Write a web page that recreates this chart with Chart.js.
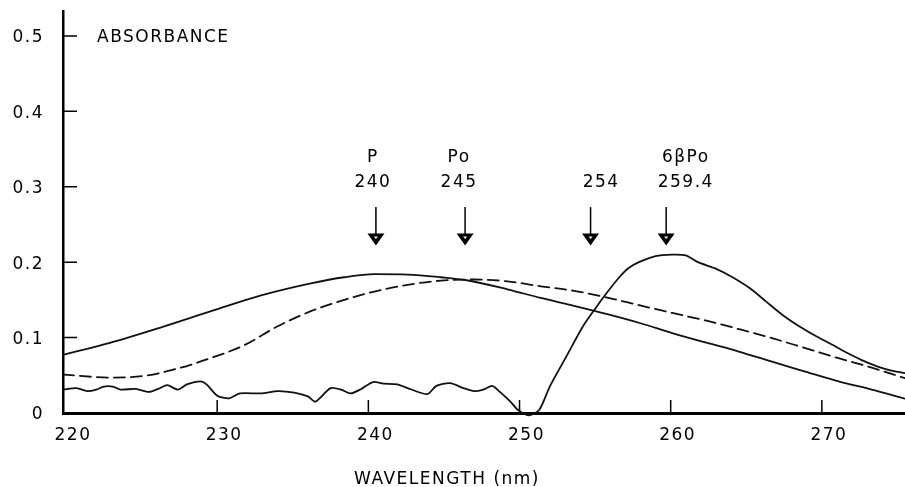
<!DOCTYPE html>
<html>
<head>
<meta charset="utf-8">
<script src="https://cdn.jsdelivr.net/npm/chart.js@4.4.1/dist/chart.umd.min.js"></script>
<style>
  html, body { margin: 0; padding: 0; background: #fff; }
  canvas { display: block; }
</style>
</head>
<body>
<canvas id="spectrumChart" width="905" height="487"></canvas>
<script>
// smooth solid trace
const smoothWl  = [219.8, 222.9, 226.2, 229.6, 232.9, 236.2, 238.4, 240.4, 242.6, 244.8, 246.5, 249.2, 251.4, 253.6, 255.8, 258.0, 260.1, 262.3, 264.5, 266.7, 268.9, 271.1, 273.3, 275.5];
const smoothAbs = [0.077, 0.093, 0.113, 0.135, 0.156, 0.172, 0.180, 0.184, 0.1835, 0.180, 0.176, 0.164, 0.1525, 0.142, 0.131, 0.119, 0.106, 0.0935, 0.0815, 0.068, 0.055, 0.042, 0.031, 0.019];

// dashed trace
const dashedWl  = [219.8, 222.9, 225.1, 227.4, 229.6, 231.8, 234.0, 236.2, 238.4, 240.4, 242.6, 244.8, 247.0, 249.2, 251.4, 253.6, 255.8, 257.9, 260.1, 262.3, 264.5, 266.7, 268.9, 271.1, 273.3, 275.5];
const dashedAbs = [0.051, 0.047, 0.049, 0.059, 0.073, 0.090, 0.115, 0.135, 0.150, 0.161, 0.170, 0.1755, 0.177, 0.1746, 0.168, 0.162, 0.153, 0.143, 0.1326, 0.1227, 0.1113, 0.0993, 0.086, 0.0727, 0.0602, 0.0461];

// noisy difference trace
const noisyWl  = [219.8, 220.7, 221.4, 222.0, 222.5, 223.1, 223.6, 224.6, 225.5, 226.1, 226.7, 227.4, 228.0, 228.9, 229.3, 230.0, 230.8, 231.5, 232.9, 234.0, 235.1, 236.0, 236.5, 237.5, 238.2, 238.8, 239.5, 240.3, 241.0, 241.9, 242.8, 243.9, 244.5, 245.4, 246.3, 247.0, 247.6, 248.2, 248.7, 249.4, 249.9, 250.6, 251.3, 252.0, 253.1, 254.2, 255.1, 255.8, 256.6, 257.2, 257.9, 259.0, 260.1, 261.0, 261.8, 262.9, 264.0, 265.2, 266.3, 267.4, 268.5, 269.6, 270.7, 271.5, 272.6, 273.7, 274.6, 275.5];
const noisyAbs = [0.031, 0.033, 0.029, 0.031, 0.035, 0.035, 0.031, 0.032, 0.028, 0.032, 0.037, 0.031, 0.038, 0.042, 0.038, 0.023, 0.0195, 0.026, 0.026, 0.029, 0.027, 0.022, 0.015, 0.033, 0.031, 0.026, 0.0315, 0.041, 0.039, 0.038, 0.0315, 0.025, 0.036, 0.0395, 0.033, 0.029, 0.031, 0.036, 0.028, 0.015, 0.004, -0.003, 0.004, 0.035, 0.075, 0.115, 0.141, 0.160, 0.180, 0.192, 0.200, 0.208, 0.210, 0.209, 0.200, 0.192, 0.181, 0.166, 0.148, 0.130, 0.115, 0.102, 0.0904, 0.0815, 0.0705, 0.0616, 0.0563, 0.0528];

const xTicks = [220, 230, 240, 250, 260, 270];
const yTicks = [0, 0.1, 0.2, 0.3, 0.4, 0.5];

// arrows marking the maxima
const markerNames  = ['P', 'Po', '', '6\u03B2Po'];
const markerLabels = ['240', '245', '254', '259.4'];
const markerWl     = [240.5, 246.4, 254.7, 259.7];
const markerTextWl = [240.3, 246.0, 255.4, 261.0];

const FONT = '"DejaVu Sans", "Liberation Sans", sans-serif';
const SPACING = '1.5px';

function points(xs, ys) {
  return xs.map((x, i) => ({ x: x, y: ys[i] }));
}

const extras = {
  id: 'extras',
  beforeLayout(chart) { chart.ctx.letterSpacing = SPACING; },
  beforeDraw(chart) { chart.ctx.letterSpacing = SPACING; },
  afterDatasetsDraw(chart) {
    const { ctx, chartArea, scales: { x, y } } = chart;
    ctx.save();
    ctx.letterSpacing = SPACING;
    ctx.strokeStyle = '#000';
    ctx.fillStyle = '#000';
    ctx.lineWidth = 1.5;

    // tick marks point into the plot
    ctx.beginPath();
    x.ticks.forEach(t => {
      const px = x.getPixelForValue(t.value);
      if (px < chartArea.left + 5) return;
      ctx.moveTo(px, chartArea.bottom);
      ctx.lineTo(px, chartArea.bottom - 13);
    });
    y.ticks.forEach(t => {
      if (t.value === 0) return;
      const py = y.getPixelForValue(t.value);
      ctx.moveTo(chartArea.left, py);
      ctx.lineTo(chartArea.left + 14, py);
    });
    ctx.stroke();

    ctx.font = '17px ' + FONT;
    ctx.textBaseline = 'middle';
    ctx.textAlign = 'left';
    ctx.fillText('ABSORBANCE', chartArea.left + 34, y.getPixelForValue(0.5) + 2);
    ctx.textAlign = 'center';
    ctx.fillText('WAVELENGTH (nm)', 447, 480);

    // arrows
    const nameY = y.getPixelForValue(0.341) + 2;
    const labelY = y.getPixelForValue(0.308) + 2;
    const shaftTop = y.getPixelForValue(0.273);
    const tip = y.getPixelForValue(0.222);
    markerWl.forEach((wl, i) => {
      const px = x.getPixelForValue(wl);
      const tx = x.getPixelForValue(markerTextWl[i]);
      ctx.fillStyle = '#000';
      if (markerNames[i]) ctx.fillText(markerNames[i], tx, nameY);
      ctx.fillText(markerLabels[i], tx, labelY);
      ctx.beginPath();
      ctx.moveTo(px, shaftTop);
      ctx.lineTo(px, tip - 10);
      ctx.stroke();
      ctx.beginPath();
      ctx.moveTo(px - 8.5, tip - 12);
      ctx.lineTo(px + 8.5, tip - 12);
      ctx.lineTo(px, tip);
      ctx.closePath();
      ctx.fill();
      ctx.fillStyle = '#fff';
      ctx.beginPath();
      ctx.moveTo(px - 2, tip - 9);
      ctx.lineTo(px + 2, tip - 9);
      ctx.lineTo(px, tip - 6.5);
      ctx.closePath();
      ctx.fill();
    });
    ctx.restore();
  }
};

const spectrumCtx = document.getElementById('spectrumChart').getContext('2d');
const spectrumChart = new Chart(spectrumCtx, {
  type: 'line',
  data: {
    datasets: [{
      data: points(smoothWl, smoothAbs),
      borderColor: '#111',
      borderWidth: 1.8,
      cubicInterpolationMode: 'monotone'
    }, {
      data: points(dashedWl, dashedAbs),
      borderColor: '#111',
      borderWidth: 1.8,
      borderDash: [11, 6],
      cubicInterpolationMode: 'monotone'
    }, {
      data: points(noisyWl, noisyAbs),
      borderColor: '#111',
      borderWidth: 1.8,
      tension: 0.25
    }]
  },
  options: {
    responsive: false,
    animation: false,
    layout: { padding: { top: 11, right: 0, bottom: 0, left: 0 } },
    elements: {
      point: { radius: 0 },
      line: { fill: false, borderJoinStyle: 'round', borderCapStyle: 'round' }
    },
    datasets: { line: { clip: false } },
    plugins: {
      legend: { display: false },
      tooltip: { enabled: false }
    },
    scales: {
      x: {
        type: 'linear',
        min: 219.8,
        max: 275.5,
        afterBuildTicks: scale => { scale.ticks = xTicks.map(v => ({ value: v })); },
        afterFit: scale => {
          scale.height = 74;
          scale.paddingLeft = 0;
          scale.paddingRight = 0;
        },
        grid: { display: false, drawTicks: false },
        border: { display: true, color: '#000', width: 3 },
        ticks: {
          color: '#000',
          font: { family: FONT, size: 17 },
          padding: 12,
          labelOffset: 7,
          maxRotation: 0
        }
      },
      y: {
        type: 'linear',
        min: 0,
        max: 0.533,
        afterBuildTicks: scale => { scale.ticks = yTicks.map(v => ({ value: v })); },
        afterFit: scale => {
          scale.width = 63;
          scale.paddingTop = 0;
          scale.paddingBottom = 0;
        },
        grid: { display: false, drawTicks: false },
        border: { display: true, color: '#000', width: 2.5 },
        ticks: {
          color: '#000',
          font: { family: FONT, size: 17 },
          padding: 19,
          labelOffset: 2,
          callback: v => (v === 0 ? '0' : v.toFixed(1))
        }
      }
    }
  },
  plugins: [extras]
});
</script>
</body>
</html>
